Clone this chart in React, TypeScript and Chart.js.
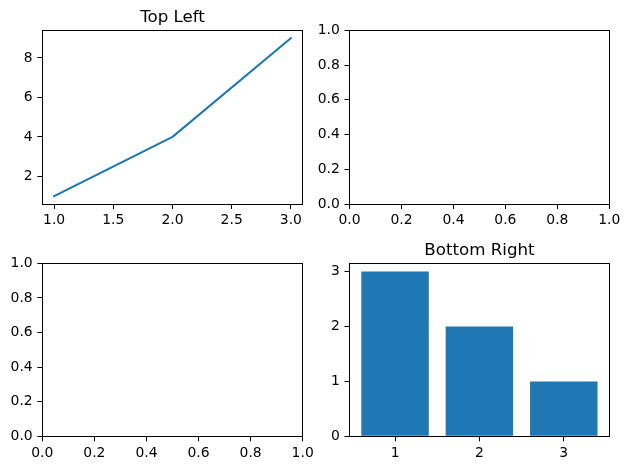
import { useEffect, useRef } from "react";
import { Chart, registerables } from "chart.js";

Chart.register(...registerables);

// ---- data ----
const lineX = [1, 2, 3];
const lineY = [1, 4, 9];
const barX = [1, 2, 3];
const barY = [3, 2, 1];

const lineXTicks = [1.0, 1.5, 2.0, 2.5, 3.0];
const lineXTickLabels = ["1.0", "1.5", "2.0", "2.5", "3.0"];
const lineYTicks = [2, 4, 6, 8];
const lineYTickLabels = ["2", "4", "6", "8"];
const unitTicks = [0, 0.2, 0.4, 0.6, 0.8, 1.0];
const unitTickLabels = ["0.0", "0.2", "0.4", "0.6", "0.8", "1.0"];
const barXTicks = [1, 2, 3];
const barXTickLabels = ["1", "2", "3"];
const barYTicks = [0, 1, 2, 3];
const barYTickLabels = ["0", "1", "2", "3"];

const titles = ["Top Left", "", "", "Bottom Right"];

// axis ranges [min, max]
const lineXRange = [0.9, 3.1];
const lineYRange = [0.6, 9.4];
const unitRange = [0, 1];
const barXRange = [0.46, 3.54];
const barYRange = [0, 3.15];

// ---- layout ----
const W = 630;
const H = 470;
const YW = 40;
const XH = 30;
const boxes = [
  { l: 42.33, r: 302.67, t: 30.33, b: 204 },
  { l: 349.5, r: 609.33, t: 30.33, b: 204 },
  { l: 42.33, r: 302.67, t: 263.33, b: 436.33 },
  { l: 349.5, r: 609.33, t: 263.33, b: 436.33 },
];
const C0 = "#1f77b4";
const FONT = "DejaVu Sans";

function makeScale(axis: "x" | "y", range: number[], ticks: number[], labels: string[]) {
  return {
    type: "linear",
    min: range[0],
    max: range[1],
    offset: false,
    afterBuildTicks: (s: any) => {
      s.ticks = ticks.map((v) => ({ value: v }));
    },
    afterFit: (s: any) => {
      if (axis === "x") s.height = XH;
      else s.width = YW;
      s.paddingLeft = 0;
      s.paddingRight = 0;
      s.paddingTop = 0;
      s.paddingBottom = 0;
    },
    grid: {
      display: true,
      drawOnChartArea: false,
      drawTicks: true,
      tickLength: 5,
      color: "#000",
      lineWidth: 1,
      offset: false,
    },
    border: { display: false },
    ticks: {
      color: "#000",
      font: { family: FONT, size: 13.9 },
      padding: axis === "x" ? 3.5 : 4.7,
      maxRotation: 0,
      minRotation: 0,
      autoSkip: false,
      callback: (_v: any, i: number) => labels[i],
    },
  };
}

function framePlugin(title: string) {
  return {
    id: "frame",
    afterDraw(chart: any) {
      const { ctx, chartArea: a } = chart;
      ctx.save();
      ctx.strokeStyle = "#000";
      ctx.lineWidth = 1;
      const l = Math.floor(a.left) + 0.5;
      const r = Math.floor(a.right) + 0.5;
      const t = Math.floor(a.top) + 0.5;
      const b = Math.floor(a.bottom) + 0.5;
      ctx.strokeRect(l, t, r - l, b - t);
      if (title) {
        ctx.fillStyle = "#000";
        ctx.font = `16.67px "${FONT}"`;
        ctx.textAlign = "center";
        ctx.textBaseline = "alphabetic";
        ctx.fillText(title, (a.left + a.right) / 2, a.top - 8.33);
      }
      ctx.restore();
    },
  };
}

function baseOptions(i: number, xScale: any, yScale: any) {
  const bx = boxes[i];
  return {
    responsive: false,
    animation: false,
    devicePixelRatio: 1,
    layout: {
      padding: {
        left: bx.l - YW,
        right: W - bx.r,
        top: bx.t,
        bottom: H - bx.b - XH,
      },
    },
    plugins: {
      legend: { display: false },
      tooltip: { enabled: false },
      title: { display: false },
    },
    events: [],
    scales: { x: xScale, y: yScale },
  };
}

function buildConfigs(): any[] {
  return [
    {
      type: "line",
      data: {
        datasets: [
          {
            data: lineX.map((x, k) => ({ x, y: lineY[k] })),
            borderColor: C0,
            borderWidth: 2.08,
            pointRadius: 0,
            fill: false,
            tension: 0,
            borderJoinStyle: "round",
            borderCapStyle: "square",
          },
        ],
      },
      options: baseOptions(
        0,
        makeScale("x", lineXRange, lineXTicks, lineXTickLabels),
        makeScale("y", lineYRange, lineYTicks, lineYTickLabels)
      ),
      plugins: [framePlugin(titles[0])],
    },
    {
      type: "scatter",
      data: { datasets: [] },
      options: baseOptions(
        1,
        makeScale("x", unitRange, unitTicks, unitTickLabels),
        makeScale("y", unitRange, unitTicks, unitTickLabels)
      ),
      plugins: [framePlugin(titles[1])],
    },
    {
      type: "scatter",
      data: { datasets: [] },
      options: baseOptions(
        2,
        makeScale("x", unitRange, unitTicks, unitTickLabels),
        makeScale("y", unitRange, unitTicks, unitTickLabels)
      ),
      plugins: [framePlugin(titles[2])],
    },
    {
      type: "bar",
      data: {
        datasets: [
          {
            data: barX.map((x, k) => ({ x, y: barY[k] })),
            backgroundColor: C0,
            borderWidth: 0,
            inflateAmount: 0,
            barPercentage: 1,
            categoryPercentage: 0.8,
          },
        ],
      },
      options: baseOptions(
        3,
        makeScale("x", barXRange, barXTicks, barXTickLabels),
        makeScale("y", barYRange, barYTicks, barYTickLabels)
      ),
      plugins: [framePlugin(titles[3])],
    },
  ];
}

export default function App() {
  const refs = [useRef<HTMLCanvasElement>(null), useRef<HTMLCanvasElement>(null), useRef<HTMLCanvasElement>(null), useRef<HTMLCanvasElement>(null)];
  useEffect(() => {
    const configs = buildConfigs();
    const charts = refs.map((r, i) => new Chart(r.current as HTMLCanvasElement, configs[i]));
    return () => charts.forEach((c) => c.destroy());
  }, []);
  return (
    <div style={{ position: "fixed", left: 0, top: 0, width: W, height: H, background: "#fff" }}>
      {refs.map((r, i) => (
        <canvas
          key={i}
          ref={r}
          width={W}
          height={H}
          style={{ position: "absolute", left: 0, top: 0, width: W, height: H }}
        />
      ))}
    </div>
  );
}
